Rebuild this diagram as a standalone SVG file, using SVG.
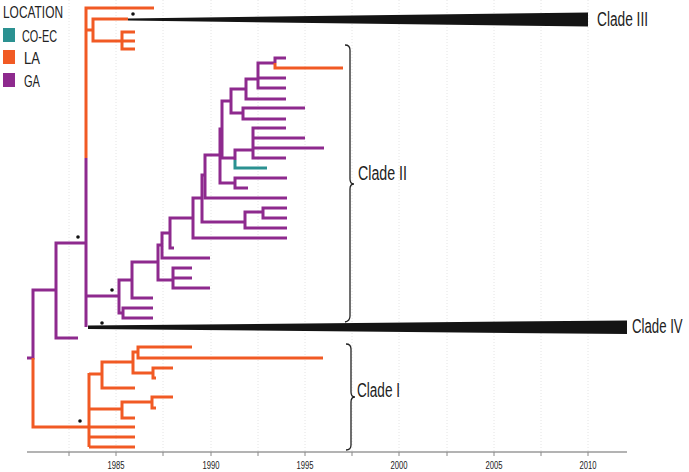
<svg xmlns="http://www.w3.org/2000/svg" width="689" height="472" viewBox="0 0 689 472">
<style>
.t{font-family:"Liberation Sans",Arial,sans-serif;fill:#222}
.pu{stroke:#8e2a8e;stroke-width:3;fill:none}
.or{stroke:#f15a24;stroke-width:3;fill:none}
.te{stroke:#2b9191;stroke-width:3;fill:none}
.grid{stroke:#e4e4e4;stroke-width:1;stroke-dasharray:1 2}
.br{stroke:#222;stroke-width:1.3;fill:none}
.dot{fill:#111}
</style>
<rect width="689" height="472" fill="#fff"/>
<g id="grid">
<line class="grid" x1="69" y1="0" x2="69" y2="452"/>
<line class="grid" x1="116" y1="0" x2="116" y2="452"/>
<line class="grid" x1="163" y1="0" x2="163" y2="452"/>
<line class="grid" x1="211" y1="0" x2="211" y2="452"/>
<line class="grid" x1="258" y1="0" x2="258" y2="452"/>
<line class="grid" x1="305" y1="0" x2="305" y2="452"/>
<line class="grid" x1="352" y1="0" x2="352" y2="452"/>
<line class="grid" x1="399" y1="0" x2="399" y2="452"/>
<line class="grid" x1="447" y1="0" x2="447" y2="452"/>
<line class="grid" x1="494" y1="0" x2="494" y2="452"/>
<line class="grid" x1="541" y1="0" x2="541" y2="452"/>
<line class="grid" x1="588" y1="0" x2="588" y2="452"/>
</g>
<g id="axis">
<line x1="27" y1="452" x2="627" y2="452" stroke="#9a9a9a" stroke-width="1.5"/>
<path d="M69,452V456M116,452V456M163,452V456M211,452V456M258,452V456M305,452V456M352,452V456M399,452V456M447,452V456M494,452V456M541,452V456M588,452V456" stroke="#888" stroke-width="1"/>
<text class="t" x="116" y="469" font-size="11" text-anchor="middle" textLength="17" lengthAdjust="spacingAndGlyphs" fill="#444">1985</text>
<text class="t" x="211" y="469" font-size="11" text-anchor="middle" textLength="17" lengthAdjust="spacingAndGlyphs" fill="#444">1990</text>
<text class="t" x="305" y="469" font-size="11" text-anchor="middle" textLength="17" lengthAdjust="spacingAndGlyphs" fill="#444">1995</text>
<text class="t" x="399" y="469" font-size="11" text-anchor="middle" textLength="17" lengthAdjust="spacingAndGlyphs" fill="#444">2000</text>
<text class="t" x="494" y="469" font-size="11" text-anchor="middle" textLength="17" lengthAdjust="spacingAndGlyphs" fill="#444">2005</text>
<text class="t" x="588" y="469" font-size="11" text-anchor="middle" textLength="17" lengthAdjust="spacingAndGlyphs" fill="#444">2010</text>
</g>
<g id="connectors">
<g id="purple-branches">
<path class="pu" d="M27,358H33V290H56M78,338H56V243H86M86,158V327M86,296H119"/>
<path class="pu" d="M132,280H119V313H123M153,308H123V318H153M158,262H132V298H153"/>
<path class="pu" d="M162,245H158V280H173M192,268H173V288H210M173,278H192"/>
<path class="pu" d="M170,233H162V258H210M193,218H170V248H174M202,198H193V238H287"/>
<path class="pu" d="M205,175H202V222H245M263,212H245V228H287M287,208H263V218H287"/>
<path class="pu" d="M220,155H205V198H287M222,129H220V183H235M287,178H235V188H248"/>
<path class="pu" d="M231,101H222V158H235M253,150H235V160M286,128H253V158H286M253,138H305M253,148H324"/>
<path class="pu" d="M246,89H231V113H243M305,108H243V119H286M258,79H246V99H286M275,63H258V88H286M258,78H286M286,58H275V63"/>
</g>
<g id="orange-branches">
<path class="or" d="M275,63V68H343"/>
<path class="or" d="M86,158V8H154M86,30H93M128,19H93V41H122M135,32H122V49H135M122,41H135"/>
<path class="or" d="M33,358V427H89M89,373V447M89,374H102M133,362H102V388H135M138,352H133V373H153M192,347H138V358H323M173,368H153V378H156"/>
<path class="or" d="M89,409H122M152,402H122V418H135M173,397H152V408H156M89,427H135M89,437H135M89,447H135"/>
</g>
<g id="teal-branch">
<path class="te" d="M235,160V168H267"/>
</g>
</g>
<g id="clade-III">
<polygon points="128,18.5 588,12.5 588,26.5 128,20.5" fill="#141414"/>
<text class="t" x="597" y="26" font-size="20" textLength="51" lengthAdjust="spacingAndGlyphs">Clade III</text>
</g>
<g id="clade-IV">
<polygon points="88,325.5 627,320.5 627,334 88,329" fill="#141414"/>
<text class="t" transform="translate(632,333) scale(0.66,1)" x="0" y="0" font-size="20">Clade IV</text>
</g>
<g id="clade-II">
<path class="br" d="M345,45Q350,45 350,50V179Q350,184 354,184Q350,184 350,189V316Q350,321 345,322"/>
<text class="t" x="358" y="180" font-size="20" textLength="49" lengthAdjust="spacingAndGlyphs">Clade II</text>
</g>
<g id="clade-I">
<path class="br" d="M346,344Q351,344 351,349V392Q351,397 355,397Q351,397 351,402V445Q351,450 346,450"/>
<text class="t" x="357" y="397" font-size="20" textLength="43" lengthAdjust="spacingAndGlyphs">Clade I</text>
</g>
<g id="support-dots">
<circle class="dot" cx="133" cy="14" r="1.8"/>
<circle class="dot" cx="78" cy="237" r="1.8"/>
<circle class="dot" cx="112" cy="290" r="1.8"/>
<circle class="dot" cx="102" cy="323" r="1.8"/>
<circle class="dot" cx="80" cy="421" r="1.8"/>
</g>
<g id="legend">
<text class="t" x="3" y="18" font-size="16" textLength="60" lengthAdjust="spacingAndGlyphs">LOCATION</text>
<rect x="3" y="28" width="12" height="14" fill="#2b9191"/>
<rect x="3" y="50" width="12" height="14" fill="#f15a24"/>
<rect x="3" y="73" width="12" height="14" fill="#8e2a8e"/>
<text class="t" x="22" y="42" font-size="16" textLength="35" lengthAdjust="spacingAndGlyphs">CO-EC</text>
<text class="t" x="24" y="64" font-size="16" textLength="16" lengthAdjust="spacingAndGlyphs">LA</text>
<text class="t" x="24" y="87" font-size="16" textLength="16" lengthAdjust="spacingAndGlyphs">GA</text>
</g>
</svg>
